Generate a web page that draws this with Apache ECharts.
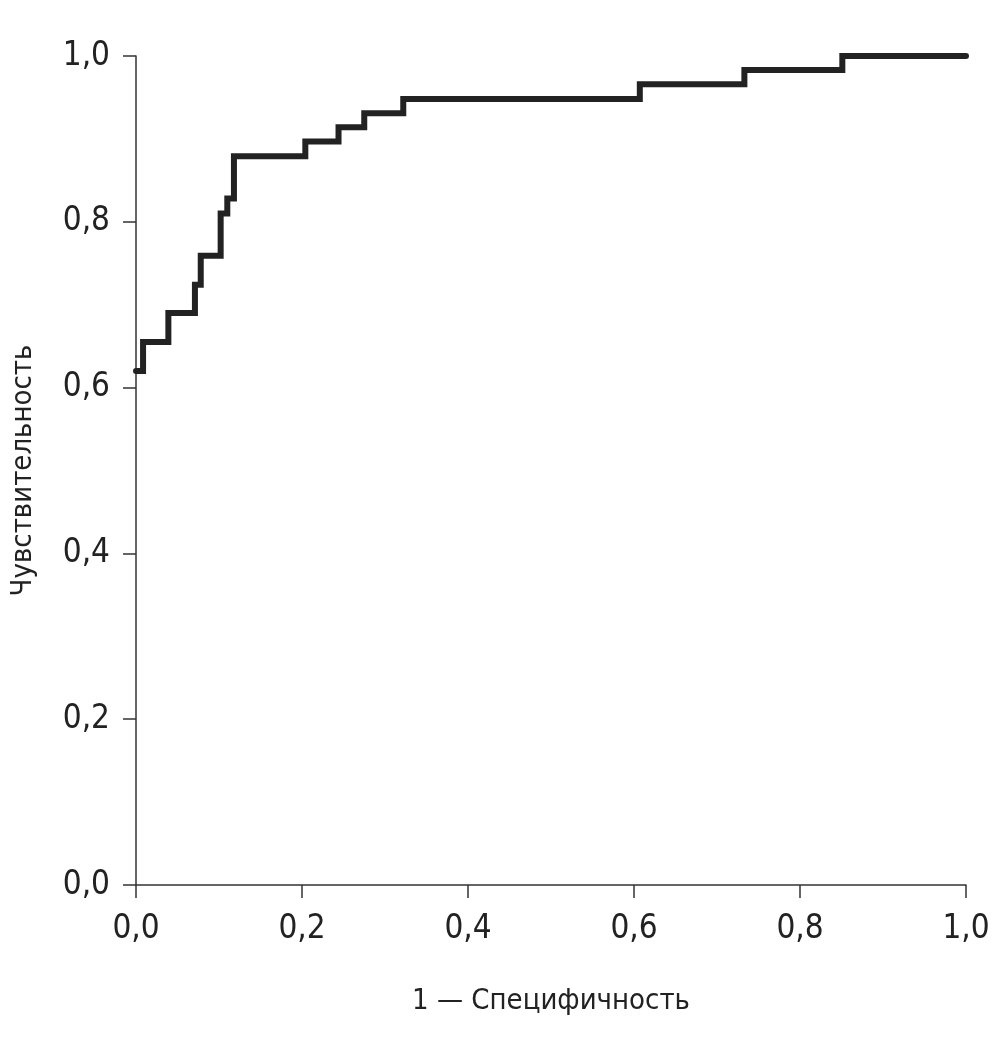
<!DOCTYPE html>
<html>
<head>
<meta charset="utf-8">
<script src="https://cdn.jsdelivr.net/npm/echarts@6/dist/echarts.min.js"></script>
<style>
html,body{margin:0;padding:0;background:#fff;}
#chart{width:1004px;height:1048px;}
</style>
</head>
<body>
<div id="chart"></div>
<script>
// 1 - specificity (x where each step up happens)
const fpr = [0, 0.0085, 0.039, 0.071, 0.078, 0.102, 0.110, 0.118, 0.204, 0.244, 0.275, 0.322, 0.607, 0.733, 0.851, 1.0];
// sensitivity after each step
const tpr = [0.62, 0.655, 0.690, 0.724, 0.759, 0.810, 0.828, 0.879, 0.897, 0.914, 0.931, 0.948, 0.966, 0.983, 1.0, 1.0];
const xTicks = [0, 0.2, 0.4, 0.6, 0.8, 1.0];
const yTicks = [0, 0.2, 0.4, 0.6, 0.8, 1.0];
const xName = '1 — Специфичность';
const yName = 'Чувствительность';

const font = '"DejaVu Sans Condensed", "Liberation Sans Narrow", "Roboto", sans-serif';
const fmt = v => v.toFixed(1).replace('.', ',');
const chart = echarts.init(document.getElementById('chart'));
const axisCommon = {
  type: 'value', min: 0, max: 1, interval: 0.2,
  axisLine: {show: true, lineStyle: {color: '#333', width: 1.5}},
  axisTick: {show: true, length: 13, lineStyle: {color: '#333', width: 1.5}},
  splitLine: {show: false},
  nameLocation: 'middle',
  nameTextStyle: {color: '#222', fontSize: 29, fontFamily: font},
  axisLabel: {color: '#222', fontSize: 33, fontFamily: font, formatter: fmt}
};
chart.setOption({
  animation: false,
  grid: {left: 136, right: 38, top: 56, bottom: 163, containLabel: false},
  xAxis: Object.assign({}, axisCommon, {
    name: xName, nameGap: 102,
    axisLabel: Object.assign({}, axisCommon.axisLabel, {margin: 28})
  }),
  yAxis: Object.assign({}, axisCommon, {
    name: yName, nameGap: 98,
    axisLabel: Object.assign({}, axisCommon.axisLabel, {margin: 26})
  }),
  series: [{
    type: 'line',
    step: 'end',
    data: fpr.map((x, i) => [x, tpr[i]]),
    symbol: 'none',
    lineStyle: {color: '#222', width: 6, cap: 'round', join: 'miter'}
  }]
});
</script>
</body>
</html>
